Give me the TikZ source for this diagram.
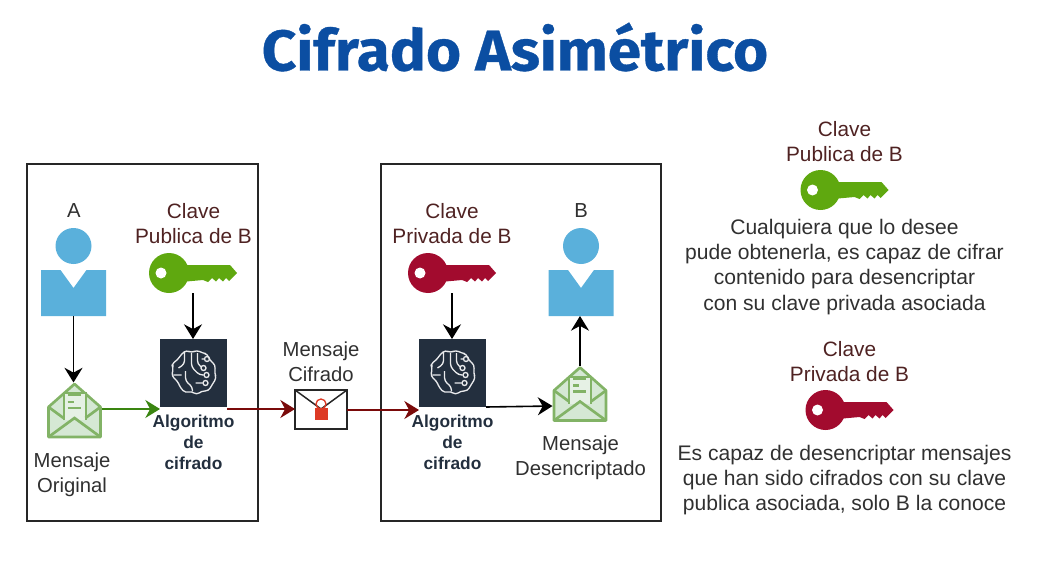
\documentclass[tikz,border=0pt]{standalone}
\usepackage{fontspec}
\setmainfont{Liberation Sans}
\newfontfamily\titlefont[FakeStretch=1.05, FakeBold=0.6]{Fira Sans}
\usetikzlibrary{arrows.meta}
\definecolor{titleblue}{HTML}{0B4EA2}
\definecolor{keygreen}{HTML}{5FA80F}
\definecolor{keyred}{HTML}{A20B2E}
\definecolor{clavetext}{HTML}{4F2222}
\definecolor{bodytext}{HTML}{303030}
\definecolor{personblue}{HTML}{5AB0DB}
\definecolor{algonavy}{HTML}{232F3E}
\definecolor{envstroke}{HTML}{82B366}
\definecolor{envfill}{HTML}{D5E8D4}
\definecolor{arrowgreen}{HTML}{3A8510}
\definecolor{arrowred}{HTML}{7A0A0A}
\definecolor{lockred}{HTML}{DD3A25}
\tikzset{
    panel/.style={draw=black!85, line width=1.1pt},
    clave/.style={align=center, text=clavetext, font=\fontsize{15.6}{18.8}\selectfont},
    mensaje/.style={align=center, text=bodytext, font=\fontsize{15.2}{18.8}\selectfont},
    nota/.style={align=center, text=bodytext, font=\fontsize{15.8}{18.8}\selectfont},
    algotext/.style={align=center, text=algonavy, font=\bfseries\fontsize{13}{15.8}\selectfont},
    iconbox/.style 2 args={minimum width=#1*0.75pt, minimum height=#2*0.75pt, inner sep=0pt, outer sep=0pt},
    flecha/.style={-{Stealth[length=11pt,width=13.5pt]}, line width=1.2pt},
    % --- iconos ---
    persona/.pic={
        \fill[personblue] (0,-26) circle (18);
        \fill[personblue] (-32.5,-2) -- (-13,-2) -- (0,16) -- (13,-2) -- (32.5,-2) -- (32.5,44) -- (-32.5,44) -- cycle;
    },
    llave/.pic={
        \fill[#1] (-24,0) circle (20);
        \fill[#1] (-12,-8) -- (37,-8) -- (44,0) -- (36,8) -- (33,5) -- (30,8.5) -- (26,5) -- (23,8.5) -- (19,5) -- (15,9) -- (10,7) -- (-12,9) -- cycle;
        \fill[white] (-32,0) circle (5.5);
    },
    sobre/.pic={
        \filldraw[draw=envstroke, fill=envfill, line width=2pt, line join=round] (-26,27) -- (26,27) -- (26,-3) -- (0,-26) -- (-26,-3) -- cycle;
        \filldraw[draw=envstroke, fill=envfill!60, line width=1.5pt] (-11,10) -- (-11,-17) -- (11,-17) -- (11,10);
        \draw[envstroke, line width=2pt] (-26,27) -- (0,8) -- (26,27) (-26,-3) -- (-11,8) (26,-3) -- (11,8);
        \foreach \y/\e in {-15/6, -8/-1, -2/6} {
            \draw[envstroke, line width=1.7pt] (-7,\y) -- (\e,\y);
        }
    },
    cerebro/.pic={
        \draw[white!90!algonavy, line width=1pt, rounded corners=2.5pt, line join=round]
            (-12,-19) -- (-7,-23) -- (-2,-20) -- (3,-23) -- (9,-20) -- (14,-19) -- (16,-13) -- (22,-8) -- (21,0) -- (23,5) -- (19,11) -- (15,18) -- (8,18) -- (3,22) -- (-2,18) -- (-8,20) -- (-13,15) -- (-16,8) -- (-22,3) -- (-20,-5) -- (-22,-9) -- (-16,-13) -- cycle
            (-2,-20) -- (-2,-6) -- (6,2) -- (10,2)
            (4,-20) -- (4,-9) -- (8,-6)
            (8,-14) -- (11,-14)
            (-9,-21) -- (-9,-9) -- (-15,-5)
            (-8,-2) -- (-8,8) -- (-1,14) -- (-1,18)
            (-20,2) -- (-12,2)
            (2,10) -- (9,10);
        \foreach \p in {(10,-5),(13.5,-14),(13,2),(12,10)} {
            \draw[white!90!algonavy, line width=1pt] \p circle (2.5);
        }
    }
}

\begin{document}
\begin{tikzpicture}[x=0.75pt, y=-0.75pt]
    \useasboundingbox (0,0) rectangle (1048,581);

    % --- 1. titulo y paneles ---
    \node[text=titleblue, font=\titlefont\bfseries\fontsize{43}{43}\selectfont] (titulo) at (515,47) {Cifrado Asimétrico};
    \draw[panel] (27,164) rectangle (258,521);
    \draw[panel] (381,164) rectangle (661,521);

    % --- 2. personas, llaves y sobres ---
    % cada fila es: nombre / x / y
    \foreach \name/\x in {personaA/73.5, personaB/581} {
        \node[iconbox={65}{88}] (\name) at (\x,272) {};
        \pic at (\name) {persona};
    }
    \foreach \name/\x/\y/\col in {llaveA/193/273/keygreen, llaveB/452/273/keyred, llaveC/844.5/190/keygreen, llaveD/849.5/410/keyred} {
        \node[iconbox={88}{40}] (\name) at (\x,\y) {};
        \pic at (\name) {llave=\col};
    }
    \foreach \name/\x/\y in {sobreA/74.5/410, sobreB/580/393.5} {
        \node[iconbox={55}{55}] (\name) at (\x,\y) {};
        \pic at (\name) {sobre};
    }

    % --- 3. algoritmos ---
    \foreach \name/\x in {algoA/193.5, algoB/452.5} {
        \node[iconbox={67}{68}, fill=algonavy] (\name) at (\x,373) {};
        \pic at (\name) {cerebro};
        \node[algotext] (\name txt) at (\x,442) {Algoritmo\\de\\cifrado};
    }

    % --- 4. sobre cifrado ---
    \node[iconbox={52}{39}, draw=black!85, fill=white, line width=1.1pt] (cifrado) at (321,409.5) {};
    \draw[black!85, line width=1.1pt] (cifrado.north west) -- (321,409) -- (cifrado.north east);
    \draw[lockred, line width=1pt] (321,404) circle (5);
    \fill[lockred] (314.5,407.5) rectangle (327.5,420);

    % --- 5. textos ---
    \node[mensaje] (txtA) at (74,211) {A};
    \node[mensaje] (txtB) at (581,211) {B};
    \node[clave] (claveA) at (193.5,223.5) {Clave\\Publica de B};
    \node[clave] (claveB) at (452,223.5) {Clave\\Privada de B};
    \node[mensaje] (txtOrig) at (72,474.5) {Mensaje\\Original};
    \node[mensaje] (txtCif) at (321,362) {Mensaje\\Cifrado};
    \node[mensaje] (txtDes) at (580.5,458) {Mensaje\\Desencriptado};
    \node[clave] (claveC) at (844.5,141.5) {Clave\\Publica de B};
    \node[clave] (claveD) at (849.5,361.5) {Clave\\Privada de B};
    \node[nota] (notaC) at (844.5,267) {Cualquiera que lo desee\\pude obtenerla, es capaz de cifrar\\contenido para desencriptar\\con su clave privada asociada};
    \node[nota] (notaD) at (844.5,480) {Es capaz de desencriptar mensajes\\que han sido cifrados con su clave\\publica asociada, solo B la conoce};

    % --- 6. flechas ---
    \draw[flecha] (personaA.south) -- (personaA.south |- sobreA.north);
    \draw[flecha] (llaveA.south) -- (llaveA.south |- algoA.north);
    \draw[flecha] (llaveB.south) -- (llaveB.south |- algoB.north);
    \draw[flecha, arrowgreen] (sobreA.east |- 0,409) -- (algoA.west |- 0,409);
    \draw[flecha, arrowred] (algoA.east |- 0,409) -- (cifrado.west |- 0,409);
    \draw[flecha, arrowred] (cifrado.east |- 0,410) -- (algoB.west |- 0,410);
    \draw[flecha] (algoB.east |- 0,407) -- (sobreB.west |- 0,406);
    \draw[flecha] (sobreB.north) -- (sobreB.north |- personaB.south);
\end{tikzpicture}
\end{document}
